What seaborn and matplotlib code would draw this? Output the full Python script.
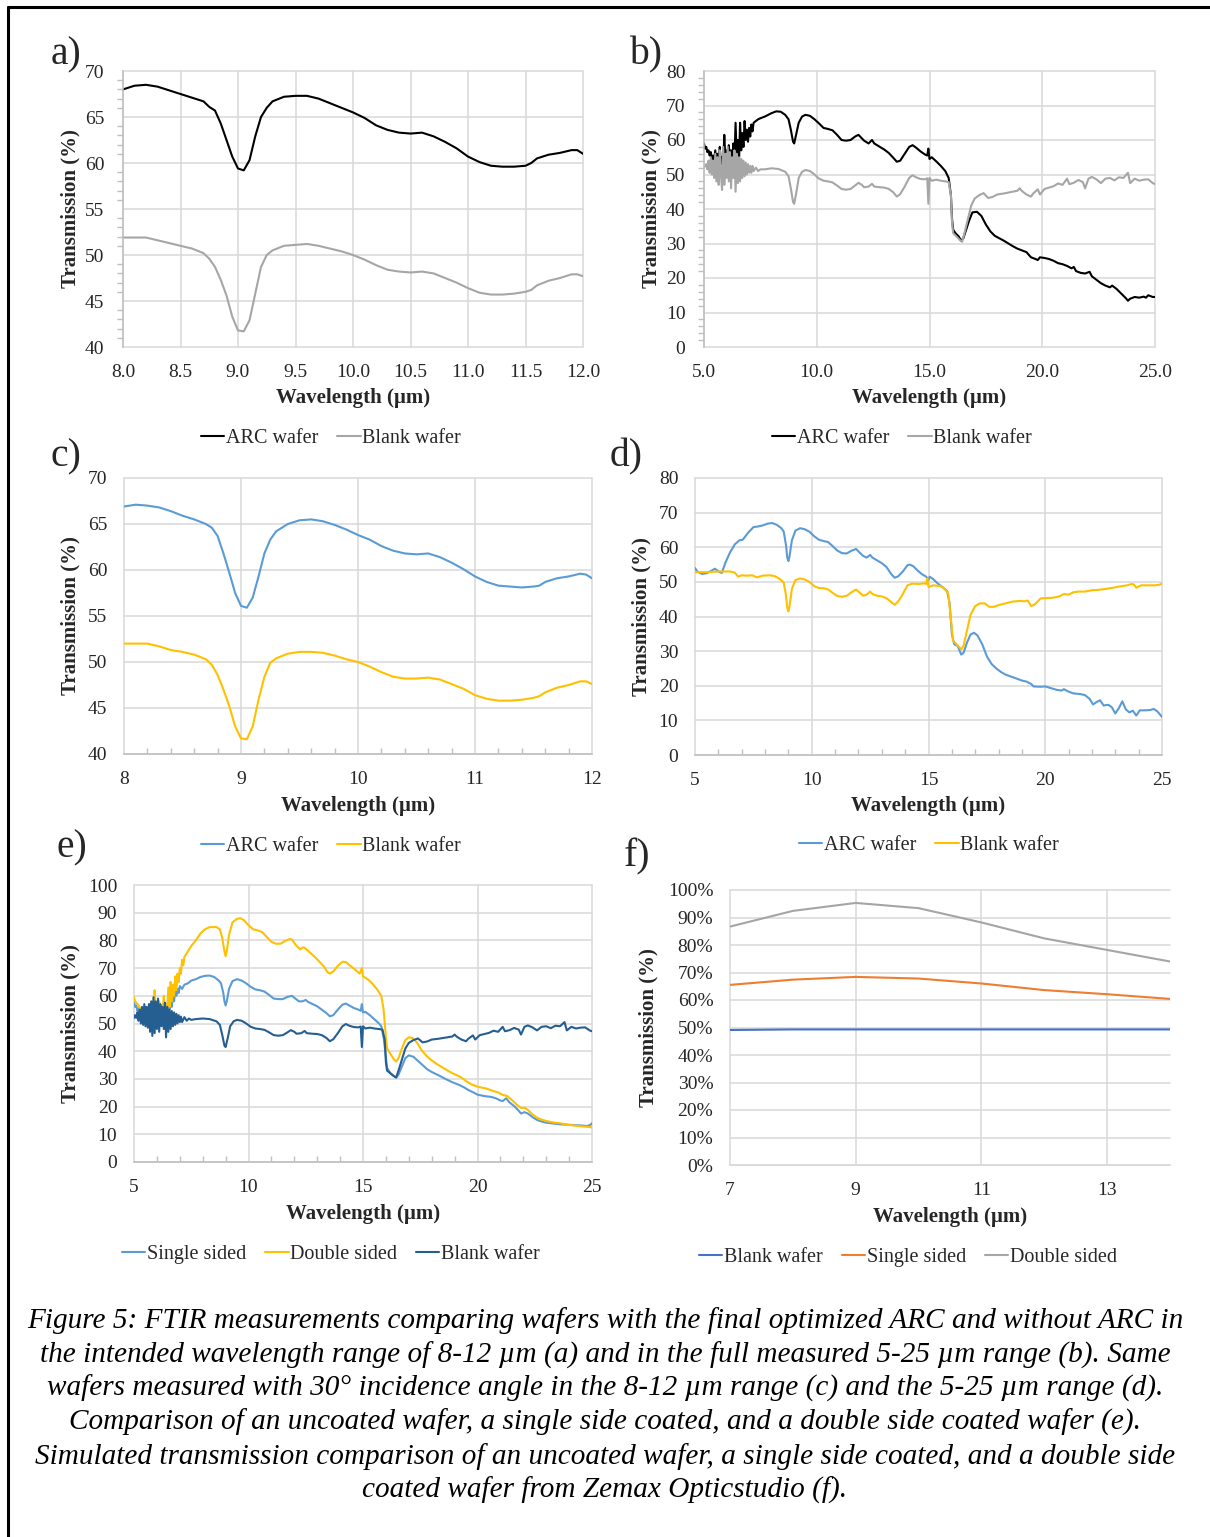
import matplotlib
matplotlib.use("Agg")
import matplotlib.pyplot as plt
from matplotlib.lines import Line2D
from matplotlib.ticker import MultipleLocator, FixedLocator, FormatStrFormatter, FuncFormatter
import seaborn as sns

# --- data (wavelength in um, transmission in %) ---

# a) normal incidence, 8-12 um
wl_a = [8.0, 8.1, 8.2, 8.3, 8.4, 8.5, 8.6, 8.7, 8.75, 8.8, 8.85, 8.9, 8.95, 9.0, 9.05,
        9.1, 9.15, 9.2, 9.25, 9.3, 9.4, 9.5, 9.6, 9.7, 9.8, 9.9, 10.0, 10.1, 10.2, 10.3,
        10.4, 10.5, 10.6, 10.7, 10.8, 10.9, 11.0, 11.1, 11.2, 11.3, 11.4, 11.5, 11.55,
        11.6, 11.7, 11.8, 11.9, 11.95, 12.0]
arc_a = [68.0, 68.4, 68.5, 68.3, 67.9, 67.5, 67.1, 66.7, 66.1, 65.7, 64.3, 62.5, 60.7, 59.4, 59.2,
         60.3, 62.9, 65.0, 66.0, 66.7, 67.2, 67.3, 67.3, 67.0, 66.5, 66.0, 65.5, 64.9, 64.1, 63.6,
         63.3, 63.2, 63.3, 62.9, 62.3, 61.6, 60.7, 60.1, 59.7, 59.6, 59.6, 59.7, 60.0,
         60.5, 60.9, 61.1, 61.4, 61.4, 61.0]
blank_a = [51.9, 51.9, 51.9, 51.6, 51.3, 51.0, 50.7, 50.2, 49.6, 48.7, 47.3, 45.6, 43.3, 41.8, 41.7,
           42.9, 45.8, 48.7, 50.0, 50.5, 51.0, 51.1, 51.2, 51.0, 50.7, 50.4, 50.0, 49.5, 48.9, 48.4,
           48.2, 48.1, 48.2, 48.0, 47.5, 47.0, 46.4, 45.9, 45.7, 45.7, 45.8, 46.0, 46.2,
           46.7, 47.2, 47.5, 47.9, 47.9, 47.7]

# c) 30 deg incidence, 8-12 um (same wavelength grid as a)
arc_c = [66.9, 67.1, 67.0, 66.8, 66.4, 65.9, 65.5, 65.0, 64.6, 63.7, 61.8, 59.7, 57.5, 56.1, 55.9,
         57.0, 59.3, 61.8, 63.3, 64.2, 65.0, 65.4, 65.5, 65.3, 64.9, 64.4, 63.8, 63.3, 62.6, 62.1,
         61.8, 61.7, 61.8, 61.4, 60.8, 60.1, 59.3, 58.7, 58.3, 58.2, 58.1, 58.2, 58.3,
         58.7, 59.1, 59.3, 59.6, 59.5, 59.1]
blank_c = [52.0, 52.0, 52.0, 51.7, 51.3, 51.1, 50.8, 50.3, 49.7, 48.6, 47.0, 45.2, 43.0, 41.7, 41.6,
           43.0, 45.9, 48.4, 49.9, 50.4, 50.9, 51.1, 51.1, 51.0, 50.7, 50.3, 50.0, 49.5, 48.9, 48.4,
           48.2, 48.2, 48.3, 48.1, 47.6, 47.1, 46.4, 46.0, 45.8, 45.8, 45.9, 46.1, 46.3,
           46.7, 47.2, 47.5, 47.9, 47.9, 47.6]

# b) normal incidence, 5-25 um  (wavelength, transmission)
arc_b = [(5.0, 59), (5.05, 57.5), (5.1, 58), (5.15, 56.5), (5.2, 57), (5.25, 55.5), (5.3, 56.5),
         (5.35, 54.5), (5.4, 55.5), (5.45, 54), (5.5, 57), (5.55, 53.5), (5.6, 56), (5.65, 54),
         (5.7, 58), (5.75, 53), (5.8, 55), (5.85, 52.5), (5.9, 61.5), (5.95, 54), (6.0, 57),
         (6.05, 52), (6.1, 58.5), (6.15, 55), (6.2, 57), (6.25, 53), (6.3, 59), (6.35, 54),
         (6.4, 65), (6.45, 55), (6.5, 60), (6.55, 53), (6.6, 65), (6.65, 57), (6.7, 62), (6.75, 58),
         (6.8, 65.5), (6.85, 60), (6.9, 63), (6.95, 59.5), (7.0, 63.5), (7.05, 61), (7.1, 64.5),
         (7.15, 62.5), (7.2, 65), (7.3, 65.5), (7.4, 66), (7.5, 66.3), (7.7, 66.8), (8.0, 67.8),
         (8.2, 68.3), (8.4, 68.2), (8.6, 67.3), (8.75, 66), (8.85, 63), (8.95, 59.5), (9.0, 59),
         (9.1, 62), (9.2, 65), (9.35, 66.8), (9.5, 67.3), (9.7, 67), (9.9, 66), (10.1, 64.8),
         (10.3, 63.5), (10.5, 63.2), (10.7, 62.8), (10.9, 61.5), (11.1, 60), (11.3, 59.8),
         (11.5, 60), (11.7, 61), (11.85, 61.5), (12.0, 60.5), (12.1, 59.8), (12.3, 59),
         (12.45, 60), (12.55, 59), (12.8, 58), (13.0, 57.2), (13.2, 56.2), (13.4, 54.8),
         (13.55, 53.7), (13.7, 54), (13.9, 56), (14.1, 58), (14.25, 58.5), (14.4, 57.8),
         (14.6, 56.7), (14.8, 55.8), (14.9, 55.5), (14.95, 57.5), (15.0, 54.5), (15.1, 55),
         (15.3, 53.8), (15.5, 52.5), (15.7, 51), (15.85, 49), (15.95, 44), (16.0, 37),
         (16.05, 34), (16.15, 33), (16.3, 32), (16.4, 30.8), (16.5, 31.5), (16.6, 33.5),
         (16.75, 36.5), (16.9, 39), (17.1, 39.2), (17.3, 38), (17.5, 35.5), (17.7, 33.5),
         (17.9, 32.2), (18.1, 31.5), (18.3, 30.8), (18.5, 30), (18.7, 29.2), (18.9, 28.5),
         (19.1, 28), (19.3, 27.5), (19.5, 26), (19.7, 25.5), (19.8, 25.2), (19.9, 26),
         (20.1, 25.8), (20.3, 25.5), (20.5, 25), (20.7, 24.3), (20.9, 24), (21.1, 23.5),
         (21.3, 22.8), (21.4, 23.2), (21.5, 22), (21.7, 21.5), (21.9, 21.3), (22.1, 21.8),
         (22.2, 20.5), (22.4, 19.5), (22.6, 18.5), (22.8, 17.8), (23.0, 17.3), (23.1, 17.8),
         (23.3, 16.8), (23.5, 15.5), (23.7, 14.2), (23.8, 13.4), (23.9, 14), (24.1, 14.5),
         (24.3, 14.3), (24.5, 14.6), (24.6, 14.3), (24.7, 15), (24.9, 14.5), (25.0, 14.5)]
blank_b = [(5.0, 52), (5.05, 52.5), (5.1, 53), (5.15, 51.5), (5.2, 54), (5.25, 50.5), (5.3, 55),
           (5.35, 50), (5.4, 54), (5.45, 49), (5.5, 56), (5.55, 48), (5.6, 55), (5.65, 47),
           (5.7, 57), (5.75, 50), (5.8, 45.5), (5.85, 58), (5.9, 47), (5.95, 56), (6.0, 49),
           (6.05, 58), (6.1, 48), (6.15, 56.5), (6.2, 46), (6.25, 55), (6.3, 49), (6.35, 57),
           (6.4, 45), (6.45, 56), (6.5, 47.5), (6.55, 55), (6.6, 48), (6.65, 54.5), (6.7, 49),
           (6.75, 54), (6.8, 49.5), (6.85, 53.5), (6.9, 50), (6.95, 53), (7.0, 50.5), (7.05, 52.5),
           (7.1, 50.5), (7.15, 52.5), (7.2, 51), (7.3, 52), (7.4, 51), (7.5, 51.5), (7.7, 51.5),
           (8.0, 51.8), (8.3, 51.6), (8.6, 50.8), (8.75, 49.5), (8.85, 46), (8.95, 42), (9.0, 41.5),
           (9.1, 45), (9.2, 49), (9.35, 50.8), (9.5, 51.3), (9.7, 51), (9.9, 50), (10.1, 48.8),
           (10.3, 48.2), (10.5, 48), (10.7, 47.7), (10.9, 46.8), (11.1, 45.8), (11.3, 45.6),
           (11.5, 45.8), (11.7, 46.8), (11.85, 47.6), (12.0, 47), (12.1, 46.3), (12.3, 46.5),
           (12.45, 47.3), (12.55, 46.5), (12.8, 46.3), (13.0, 46.2), (13.2, 45.8), (13.4, 44.8),
           (13.55, 43.6), (13.7, 44.3), (13.9, 46.5), (14.1, 49), (14.25, 49.8), (14.4, 49.2),
           (14.6, 48.7), (14.8, 48.6), (14.9, 48.9), (14.95, 41.5), (15.0, 49), (15.1, 48.2),
           (15.3, 48.5), (15.5, 48.2), (15.7, 48), (15.85, 47.8), (15.95, 44), (16.0, 36),
           (16.05, 33), (16.2, 32), (16.35, 31), (16.45, 30.5), (16.55, 33), (16.7, 37),
           (16.85, 41), (17.0, 43), (17.2, 44), (17.4, 44.6), (17.6, 43.2), (17.8, 43.5),
           (18.0, 44.2), (18.3, 44.5), (18.6, 44.9), (18.9, 45.3), (19.0, 46), (19.1, 45.2),
           (19.3, 44.2), (19.5, 43.6), (19.6, 44.5), (19.8, 45.7), (19.9, 44.2), (20.1, 45.8),
           (20.3, 46.2), (20.5, 46.6), (20.7, 47.4), (20.9, 47), (21.1, 48.8), (21.2, 47.2),
           (21.4, 47.6), (21.6, 48.4), (21.8, 47.8), (21.9, 46), (22.05, 48.8), (22.2, 49.3),
           (22.4, 48.6), (22.6, 47.5), (22.8, 48.8), (23.0, 49), (23.2, 48.3), (23.4, 49.2),
           (23.6, 49), (23.8, 50.5), (23.9, 47.5), (24.1, 48.8), (24.3, 48.2), (24.5, 48.5),
           (24.7, 48.6), (24.9, 47.5), (25.0, 47.2)]

# d) 30 deg incidence, 5-25 um
arc_d = [(5.0, 54), (5.1, 53), (5.3, 52.3), (5.5, 52.5), (5.7, 53.2), (5.85, 53.8), (5.95, 53.3),
         (6.05, 52.8), (6.15, 52.6), (6.3, 55.5), (6.5, 58.5), (6.7, 60.8), (6.9, 62), (7.05, 62.2),
         (7.25, 64), (7.5, 65.8), (7.7, 66), (7.9, 66.3), (8.1, 66.8), (8.3, 67), (8.5, 66.5),
         (8.7, 65.5), (8.8, 64.5), (8.9, 60.5), (8.95, 57), (9.0, 56), (9.05, 57.5), (9.15, 62),
         (9.3, 64.8), (9.5, 65.5), (9.7, 65.2), (9.9, 64.5), (10.1, 63.2), (10.3, 62.2),
         (10.5, 61.8), (10.7, 61.5), (10.9, 60.3), (11.1, 59), (11.3, 58.3), (11.5, 58.2),
         (11.7, 59), (11.9, 59.5), (12.0, 58.8), (12.2, 57.5), (12.35, 57), (12.5, 57.8),
         (12.6, 57), (12.8, 56.2), (13.0, 55.4), (13.2, 54.3), (13.4, 52.3), (13.55, 51.2),
         (13.7, 51.6), (13.9, 53), (14.1, 54.8), (14.2, 55), (14.35, 54.5), (14.5, 53.5),
         (14.7, 52.3), (14.9, 51.5), (15.0, 50.5), (15.05, 51.5), (15.2, 50.8), (15.4, 49.5),
         (15.6, 48.5), (15.8, 47.3), (15.9, 44), (16.0, 35), (16.1, 32), (16.25, 31.5), (16.4, 29),
         (16.5, 29.5), (16.65, 32.5), (16.8, 34.8), (16.95, 35.3), (17.1, 34.5), (17.3, 32),
         (17.5, 28.5), (17.7, 26.3), (17.9, 25), (18.1, 24), (18.3, 23.2), (18.6, 22.5), (18.8, 22),
         (19.0, 21.5), (19.2, 21.2), (19.4, 20.5), (19.5, 19.8), (19.8, 19.7), (20.0, 19.8),
         (20.2, 19.4), (20.5, 18.8), (20.7, 18.6), (20.8, 19), (21.0, 18.3), (21.2, 17.8),
         (21.5, 17.6), (21.7, 17.3), (21.9, 16.2), (22.05, 14.6), (22.2, 15.3), (22.35, 15.8),
         (22.5, 14.3), (22.7, 14.5), (22.85, 13.8), (23.0, 12), (23.15, 13.5), (23.3, 15.5),
         (23.45, 13.2), (23.6, 12.3), (23.75, 12.8), (23.9, 11.4), (24.05, 12.9), (24.3, 12.9),
         (24.5, 13), (24.65, 13.3), (24.8, 12.6), (24.9, 11.8), (25.0, 11)]
blank_d = [(5.0, 52.8), (5.5, 52.8), (6.0, 53), (6.5, 53), (6.7, 52.7), (6.85, 51.5), (7.0, 51.9),
           (7.2, 51.8), (7.45, 51.9), (7.65, 51.3), (7.9, 51.8), (8.2, 51.9), (8.4, 51.7), (8.6, 51),
           (8.8, 49.8), (8.9, 46), (8.95, 42.5), (9.0, 41.5), (9.05, 43), (9.15, 48), (9.3, 50.5),
           (9.5, 51), (9.7, 50.7), (9.9, 50), (10.1, 48.8), (10.3, 48.2), (10.5, 48.2), (10.7, 47.8),
           (10.9, 46.8), (11.1, 45.9), (11.3, 45.7), (11.5, 46), (11.7, 47), (11.9, 47.8),
           (12.0, 47.2), (12.2, 46), (12.35, 46.3), (12.5, 47.2), (12.6, 46.5), (12.8, 46),
           (13.0, 45.8), (13.2, 45.3), (13.4, 44.2), (13.55, 43.4), (13.7, 44.3), (13.9, 46.5),
           (14.1, 49), (14.3, 49.5), (14.6, 49.4), (14.85, 49.6), (14.9, 49.4), (14.95, 51),
           (15.0, 48.5), (15.2, 49), (15.5, 48.8), (15.7, 48), (15.85, 46.5), (15.95, 40),
           (16.05, 33), (16.2, 32), (16.4, 30.5), (16.5, 31.5), (16.65, 36), (16.8, 40.5),
           (17.0, 43), (17.2, 43.8), (17.4, 43.8), (17.6, 42.8), (17.8, 42.8), (18.0, 43.3),
           (18.3, 43.8), (18.6, 44.3), (18.9, 44.5), (19.1, 44.4), (19.25, 44.6), (19.4, 43),
           (19.55, 43.5), (19.8, 45.2), (20.0, 45.3), (20.3, 45.4), (20.6, 45.8), (20.8, 46.5),
           (21.0, 46.3), (21.2, 47), (21.4, 47.2), (21.7, 47.2), (22.0, 47.6), (22.3, 47.7),
           (22.6, 48), (22.9, 48.3), (23.2, 48.7), (23.5, 49), (23.7, 49.4), (23.8, 49.2),
           (23.9, 48.3), (24.1, 49), (24.4, 49), (24.7, 49), (24.9, 49.2), (25.0, 49.5)]

# e) uncoated / single side / double side coated, 5-25 um
single_e = [(5.0, 57.5), (5.05, 56), (5.1, 56.5), (5.15, 54.5), (5.2, 55.5), (5.25, 53), (5.3, 55),
            (5.35, 52.5), (5.4, 54.5), (5.45, 52), (5.5, 56), (5.55, 51.5), (5.6, 55), (5.65, 52),
            (5.7, 57), (5.75, 50.5), (5.8, 56), (5.85, 51), (5.9, 58), (5.95, 50), (6.0, 56.5),
            (6.05, 52), (6.1, 57), (6.15, 51.5), (6.2, 55), (6.25, 52), (6.3, 58), (6.35, 53),
            (6.4, 56), (6.45, 54), (6.5, 60), (6.55, 55), (6.6, 58), (6.65, 56), (6.7, 61), (6.75, 58),
            (6.8, 62), (6.85, 60), (6.9, 62.5), (6.95, 61), (7.0, 63.5), (7.1, 62.5), (7.2, 64),
            (7.35, 64.5), (7.5, 65.5), (7.7, 66), (7.9, 66.8), (8.1, 67.2), (8.3, 67.3), (8.5, 66.8),
            (8.7, 65.5), (8.8, 64.5), (8.9, 61), (8.95, 58), (9.0, 56.5), (9.05, 58), (9.15, 62.5),
            (9.3, 65.3), (9.5, 66), (9.7, 65.5), (9.9, 64.5), (10.1, 63.2), (10.3, 62.3), (10.5, 62),
            (10.7, 61.5), (10.9, 60.3), (11.1, 59), (11.3, 58.8), (11.5, 58.8), (11.7, 59.6),
            (11.9, 60), (12.0, 59.3), (12.2, 58), (12.35, 58), (12.5, 58.5), (12.6, 57.8), (12.8, 57),
            (13.0, 56.2), (13.2, 55), (13.4, 53.8), (13.55, 52.6), (13.7, 53), (13.9, 55),
            (14.1, 56.8), (14.25, 57.2), (14.4, 56.5), (14.6, 55.6), (14.8, 55), (14.9, 54.6),
            (14.95, 57), (15.0, 54), (15.1, 54.2), (15.3, 53), (15.5, 51.5), (15.7, 50), (15.8, 49),
            (15.9, 45), (16.0, 38), (16.05, 34), (16.2, 32), (16.35, 31), (16.45, 30.5),
            (16.55, 31.5), (16.7, 34.5), (16.85, 37.5), (17.0, 38.5), (17.2, 38), (17.4, 36.5),
            (17.6, 35), (17.8, 33.5), (18.0, 32.5), (18.3, 31.3), (18.6, 30), (18.9, 28.8),
            (19.2, 27.8), (19.4, 27), (19.6, 26), (19.8, 25.2), (20.0, 24.3), (20.3, 23.8),
            (20.6, 23.5), (20.8, 23), (21.0, 22.2), (21.1, 22), (21.25, 23), (21.4, 21.5),
            (21.6, 20.2), (21.8, 18.5), (21.9, 17.5), (22.05, 18), (22.2, 17.5), (22.4, 16.2),
            (22.6, 15.2), (22.8, 14.6), (23.0, 14.2), (23.3, 13.9), (23.6, 13.6), (23.9, 13.5),
            (24.2, 13.3), (24.5, 13.2), (24.8, 13), (24.95, 13.5), (25.0, 14)]
double_e = [(5.0, 59.5), (5.05, 58), (5.1, 57.5), (5.2, 56.5), (5.3, 55), (5.4, 54), (5.5, 53.5),
            (5.6, 55), (5.65, 53), (5.7, 57), (5.75, 54), (5.8, 58), (5.85, 53), (5.9, 62),
            (5.95, 55), (6.0, 57), (6.05, 51), (6.1, 58), (6.15, 53), (6.2, 56), (6.25, 52), (6.3, 60),
            (6.35, 54), (6.4, 57), (6.45, 55), (6.5, 63), (6.55, 56), (6.6, 65), (6.65, 58), (6.7, 64),
            (6.75, 60), (6.8, 67), (6.85, 62), (6.9, 68), (6.95, 65), (7.0, 70), (7.05, 68), (7.1, 73),
            (7.15, 71), (7.2, 74), (7.35, 76), (7.5, 78), (7.7, 80), (7.9, 82.5), (8.1, 84),
            (8.3, 84.8), (8.6, 84.8), (8.75, 84), (8.85, 81), (8.95, 76), (9.0, 74.3), (9.05, 76),
            (9.15, 82), (9.3, 86.5), (9.5, 87.8), (9.65, 88), (9.8, 87.3), (10.0, 85.5), (10.2, 84),
            (10.4, 83.6), (10.6, 83), (10.8, 81.2), (11.0, 79.5), (11.2, 78.8), (11.4, 78.8),
            (11.6, 79.8), (11.8, 80.5), (11.9, 80.3), (12.05, 78.5), (12.25, 76.8), (12.4, 77.5),
            (12.5, 77), (12.7, 75.5), (12.9, 74), (13.1, 72.3), (13.3, 70.5), (13.45, 68.5),
            (13.55, 68), (13.7, 68.8), (13.9, 70.8), (14.1, 72.3), (14.25, 72.2), (14.45, 70.8),
            (14.65, 69.5), (14.85, 68), (14.95, 70), (15.0, 67), (15.2, 66), (15.4, 64.5),
            (15.6, 62.5), (15.8, 60), (15.9, 55), (16.0, 45), (16.05, 41), (16.2, 39), (16.35, 37),
            (16.45, 36.3), (16.55, 37.5), (16.7, 41), (16.85, 44), (17.0, 45), (17.15, 44.8),
            (17.35, 43.2), (17.55, 40.5), (17.75, 38.5), (17.95, 37), (18.2, 35.5), (18.5, 34),
            (18.8, 32.5), (19.1, 31.3), (19.3, 30.5), (19.5, 29.2), (19.7, 28.2), (19.9, 27.5),
            (20.1, 27), (20.4, 26.5), (20.7, 25.6), (20.9, 25.1), (21.1, 24.2), (21.3, 23.8),
            (21.5, 22.4), (21.7, 20.8), (21.9, 19.5), (22.05, 19.6), (22.2, 18.8), (22.4, 17.2),
            (22.6, 16), (22.8, 15.3), (23.0, 14.8), (23.3, 14.3), (23.6, 14), (23.9, 13.5),
            (24.2, 13.2), (24.5, 12.9), (24.8, 12.7), (25.0, 12.5)]
# uncoated wafer in e: own noisy start, then the same trace as the blank wafer in b
blank_e = [(5.0, 52), (5.05, 53), (5.1, 52), (5.15, 54), (5.2, 51), (5.25, 55), (5.3, 50), (5.35, 56),
           (5.4, 49.5), (5.45, 57), (5.5, 49), (5.55, 56), (5.6, 48.5), (5.65, 57), (5.7, 47),
           (5.75, 58), (5.8, 45.5), (5.85, 59.5), (5.9, 46.5), (5.95, 58), (6.0, 48), (6.05, 59),
           (6.1, 47), (6.15, 57), (6.2, 49), (6.25, 56), (6.3, 48), (6.35, 57.5), (6.4, 45),
           (6.45, 56), (6.5, 47), (6.55, 55), (6.6, 48), (6.65, 54.5), (6.7, 49), (6.75, 54),
           (6.8, 49.5), (6.85, 53.5), (6.9, 50), (6.95, 53), (7.0, 50.5), (7.05, 52.5), (7.1, 50.5),
           (7.2, 52.3), (7.3, 51), (7.4, 51.8), (7.5, 51.3), (7.7, 51.6)] + blank_b[49:]

# f) simulated (Zemax), 7-14 um
wl_f = [7, 8, 9, 10, 11, 12, 13, 14]
blank_f = [49.1, 49.3, 49.3, 49.3, 49.3, 49.3, 49.3, 49.3]
single_f = [65.5, 67.4, 68.4, 67.8, 66.0, 63.6, 62.1, 60.4]
double_f = [86.7, 92.4, 95.3, 93.4, 88.2, 82.4, 78.2, 74.0]
ticks_f = [7, 9, 11, 13]

caption_lines = [
    "Figure 5: FTIR measurements comparing wafers with the final optimized ARC and without ARC in",
    "the intended wavelength range of 8-12 \u00b5m (a) and in the full measured 5-25 \u00b5m range (b). Same",
    "wafers measured with 30\u00b0 incidence angle in the 8-12 \u00b5m range (c) and the 5-25 \u00b5m range (d).",
    "Comparison of an uncoated wafer, a single side coated, and a double side coated wafer (e).",
    "Simulated transmission comparison of an uncoated wafer, a single side coated, and a double side",
    "coated wafer from Zemax Opticstudio (f).",
]

# --- style ---
sns.set_style("white")
plt.rcParams["font.family"] = ["Liberation Serif", "DejaVu Serif"]

W, H = 1210, 1537
GRID = "#D9D9D9"
AXIS = "#BFBFBF"
fig = plt.figure(figsize=(W / 100, H / 100), dpi=100)

# frame lines of the scanned page
fig.add_artist(Line2D([8 / W, 8 / W], [0, 1 - 6.5 / H], color="black", lw=2.2, transform=fig.transFigure))
fig.add_artist(Line2D([8 / W, 1], [1 - 6.5 / H, 1 - 6.5 / H], color="black", lw=2.2, transform=fig.transFigure))


def add_ax(l, t, r, b):
    return fig.add_axes([l / W, 1 - b / H, (r - l) / W, (b - t) / H])


def line(ax, x, y, color, name, lw=1.5):
    sns.lineplot(x=list(x), y=list(y), ax=ax, color=color, linewidth=lw, label=name,
                 sort=False, estimator=None)


def pairs(ax, data, color, name, lw=1.5):
    x, y = zip(*data)
    line(ax, x, y, color, name, lw)


def style(ax, xlim, ylim, xmaj, ymaj, fmt_x, fmt_y, minor_axis=None, minor=None, axis_side="left",
          ylab_x=70, xlab_y=398):
    ax.set_xlim(*xlim)
    ax.set_ylim(*ylim)
    if isinstance(xmaj, list):
        ax.xaxis.set_major_locator(FixedLocator(xmaj))
    else:
        ax.xaxis.set_major_locator(MultipleLocator(xmaj))
    ax.yaxis.set_major_locator(MultipleLocator(ymaj))
    ax.xaxis.set_major_formatter(fmt_x)
    ax.yaxis.set_major_formatter(fmt_y)
    ax.grid(True, color=GRID, lw=1.1)
    for g in ax.get_xgridlines() + ax.get_ygridlines():
        g.set_clip_on(False)
    for s in ax.spines.values():
        s.set_visible(False)
    if axis_side == "left":
        ax.spines["left"].set_visible(True)
        ax.spines["left"].set_color(AXIS)
        ax.tick_params(axis="y", which="major", length=5, color=GRID)
        ax.tick_params(axis="x", which="major", length=0)
    else:
        ax.spines["bottom"].set_visible(True)
        ax.spines["bottom"].set_color(AXIS)
        ax.tick_params(axis="both", which="major", length=0)
    ax.spines["left"].set_linewidth(1.1)
    ax.spines["bottom"].set_linewidth(1.1)
    ax.tick_params(axis="x", which="major", pad=12, labelsize=14, labelcolor="#262626")
    ax.tick_params(axis="y", which="major", labelsize=14, labelcolor="#262626",
                   pad=12 - (5 * 0.72 if axis_side == "left" else 0))
    if minor_axis == "y":
        ax.yaxis.set_minor_locator(MultipleLocator(minor))
        ax.tick_params(axis="y", which="minor", length=4, width=1, color=AXIS, direction="out", left=True)
    elif minor_axis == "x":
        ax.xaxis.set_minor_locator(MultipleLocator(minor))
        ax.tick_params(axis="x", which="minor", length=4.5, width=1, color=AXIS, direction="in", bottom=True)
    ax.set_xlabel("Wavelength (\u00b5m)", fontsize=15, fontweight="bold", va="center")
    ax.set_ylabel("Transmission (%)", fontsize=15, fontweight="bold", va="center")
    # label positions in figure pixels
    bb = ax.get_position()
    ax.yaxis.set_label_coords(ylab_x / W, bb.y0 + bb.height / 2, transform=fig.transFigure)
    ax.xaxis.set_label_coords(bb.x0 + bb.width / 2, 1 - xlab_y / H, transform=fig.transFigure)


def legend(ax, cx, cy):
    h, l = ax.get_legend_handles_labels()
    ax.legend(h, l, loc="center", bbox_to_anchor=(cx / W, 1 - cy / H), bbox_transform=fig.transFigure,
              ncol=len(h), frameon=False, fontsize=14.5, handlelength=1.15, handletextpad=0.08,
              columnspacing=0.95, labelcolor="#262626")


def letter(x, y, s):
    fig.text(x / W, 1 - y / H, s, fontsize=28.5, ha="left", va="center")


f1 = FormatStrFormatter("%.1f")
fint = FormatStrFormatter("%d")
fpct = FuncFormatter(lambda v, p: f"{v:.0f}%")

# a)
ax = add_ax(123, 71, 583, 347)
line(ax, wl_a, arc_a, "black", "ARC wafer")
line(ax, wl_a, blank_a, "#A6A6A6", "Blank wafer")
style(ax, (8, 12), (40, 70), 0.5, 5, f1, fint, "y", 1, "left", ylab_x=70, xlab_y=398)
legend(ax, 331, 438)
letter(51, 55, "a)")

# b)
ax = add_ax(704, 71, 1155, 347)
pairs(ax, arc_b, "black", "ARC wafer")
pairs(ax, blank_b, "#A6A6A6", "Blank wafer")
style(ax, (5, 25), (0, 80), 5, 10, f1, fint, "y", 2, "left", ylab_x=651, xlab_y=398)
legend(ax, 902, 438)
letter(629, 55, "b)")

# c)
ax = add_ax(124, 478, 592, 754)
line(ax, wl_a, arc_c, "#5B9BD5", "ARC wafer")
line(ax, wl_a, blank_c, "#FFC000", "Blank wafer")
style(ax, (8, 12), (40, 70), 1, 5, fint, fint, "x", 0.2, "bottom", ylab_x=70, xlab_y=806)
legend(ax, 331, 846)
letter(51, 457, "c)")

# d)
ax = add_ax(695, 478, 1162, 755)
pairs(ax, arc_d, "#5B9BD5", "ARC wafer")
pairs(ax, blank_d, "#FFC000", "Blank wafer")
style(ax, (5, 25), (0, 80), 5, 10, fint, fint, "x", 1, "bottom", ylab_x=641, xlab_y=806)
legend(ax, 929, 845)
letter(610, 457, "d)")

# e)
ax = add_ax(134, 885, 592, 1162)
pairs(ax, single_e, "#5B9BD5", "Single sided")
pairs(ax, double_e, "#FFC000", "Double sided")
pairs(ax, blank_e, "#255E91", "Blank wafer")
style(ax, (5, 25), (0, 100), 5, 10, fint, fint, "x", 1, "bottom", ylab_x=70, xlab_y=1214)
legend(ax, 331, 1254)
letter(56, 848, "e)")

# f)
ax = add_ax(730, 890, 1170, 1165)
line(ax, wl_f, blank_f, "#4472C4", "Blank wafer")
line(ax, wl_f, single_f, "#ED7D31", "Single sided")
line(ax, wl_f, double_f, "#A5A5A5", "Double sided")
style(ax, (7, 14), (0, 100), ticks_f, 10, fint, fpct, None, None, "bottom", ylab_x=648, xlab_y=1217)
ax.spines["bottom"].set_color(GRID)
legend(ax, 908, 1257)
letter(624, 857, "f)")

# caption
for i, txt in enumerate(caption_lines):
    fig.text(0.5, 1 - (1321 + i * 33.9) / H, txt, fontsize=21.1, style="italic",
             ha="center", va="center", color="black")

fig.savefig("out.png", dpi=100, facecolor="white")
